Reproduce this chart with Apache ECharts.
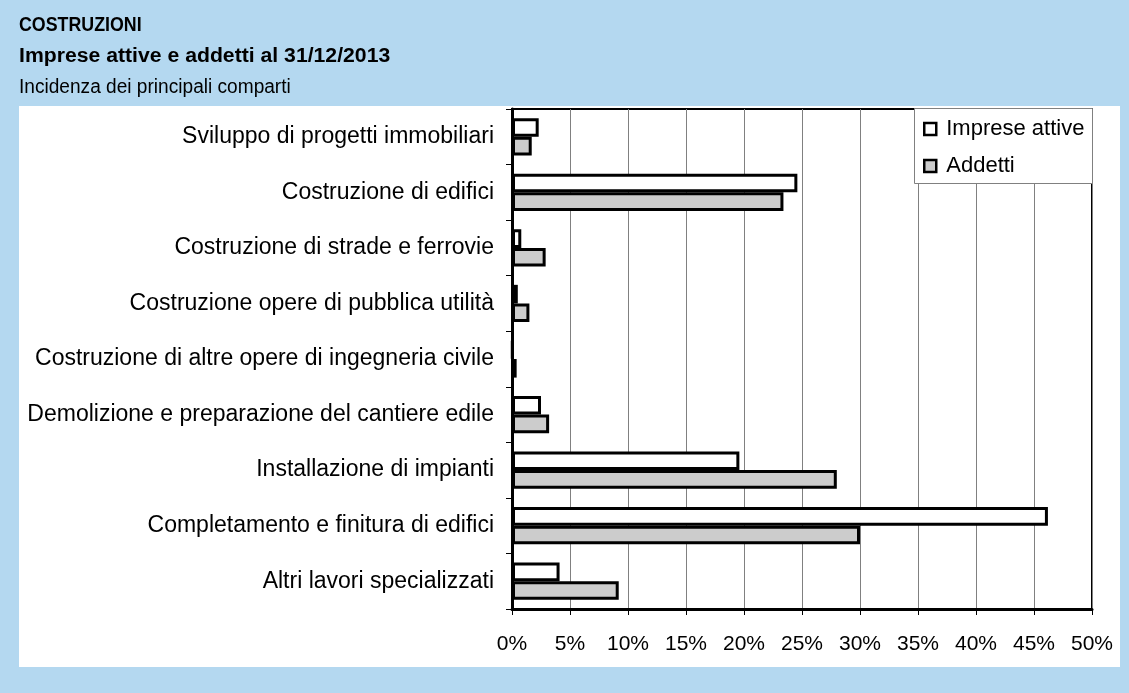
<!DOCTYPE html>
<html><head><meta charset="utf-8">
<script src="https://cdn.jsdelivr.net/npm/echarts@6/dist/echarts.min.js"></script>
<style>html,body{margin:0;padding:0;background:#b4d8f0;}#c{width:1129px;height:693px;}</style>
</head><body><div id="c"></div>
<script>
const categories = [
  'Sviluppo di progetti immobiliari',
  'Costruzione di edifici',
  'Costruzione di strade e ferrovie',
  'Costruzione opere di pubblica utilità',
  'Costruzione di altre opere di ingegneria civile',
  'Demolizione e preparazione del cantiere edile',
  'Installazione di impianti',
  'Completamento e finitura di edifici',
  'Altri lavori specializzati'
];
const impreseAttive = [2.3, 24.6, 0.8, 0.5, 0.05, 2.5, 19.6, 46.2, 4.1];
const addetti = [1.7, 23.4, 2.9, 1.5, 0.4, 3.2, 28.0, 30.0, 9.2];
const seriesNames = ['Imprese attive', 'Addetti'];
const titleLines = ['COSTRUZIONI', 'Imprese attive e addetti al 31/12/2013', 'Incidenza dei principali comparti'];

const FONT = '"Liberation Sans", Arial, sans-serif';
const chart = echarts.init(document.getElementById('c'), null, {renderer: 'canvas'});
function titleText(txt, y, weight, sx) {
  return {type: 'text', x: 19, y: y, scaleX: sx, z: 20,
    style: {text: txt, font: weight + ' 20px ' + FONT, fill: '#000', textVerticalAlign: 'middle', textAlign: 'left'}};
}
chart.setOption({
  backgroundColor: '#b4d8f0',
  animation: false,
  graphic: [
    {type: 'rect', left: 19, top: 106, shape: {width: 1101, height: 561}, style: {fill: '#ffffff'}, z: -10},
    {type: 'rect', left: 914, top: 108, shape: {width: 178, height: 75}, style: {fill: '#ffffff', stroke: '#808080', lineWidth: 1}, z: 5},
    titleText(titleLines[0], 25, 'bold', 0.89),
    titleText(titleLines[1], 56, 'bold', 1.06),
    titleText(titleLines[2], 87, 'normal', 0.955)
  ],
  legend: {
    orient: 'vertical', left: 914, top: 108, z: 10,
    padding: [10, 10, 10, 9], itemGap: 15,
    icon: 'rect', itemWidth: 12, itemHeight: 12,
    itemStyle: {borderColor: '#000', borderWidth: 2.5},
    textStyle: {fontFamily: FONT, fontSize: 22, color: '#000', lineHeight: 22, padding: [0, 0, 0, 5]},
    data: seriesNames
  },
  grid: {left: 512, right: 37, top: 109, bottom: 84, show: true, borderColor: '#000', borderWidth: 2, backgroundColor: 'transparent'},
  xAxis: {
    type: 'value', min: 0, max: 50, interval: 5,
    axisLine: {show: true, lineStyle: {color: '#000', width: 3}},
    axisTick: {show: true, length: 6, lineStyle: {color: '#000', width: 1}},
    splitLine: {show: true, lineStyle: {color: '#808080', width: 1}},
    axisLabel: {formatter: '{value}%', fontFamily: FONT, fontSize: 21, color: '#000', margin: 25}
  },
  yAxis: {
    type: 'category', inverse: true, data: categories,
    axisLine: {show: true, lineStyle: {color: '#000', width: 3}},
    axisTick: {show: true, length: 6, lineStyle: {color: '#000', width: 1}},
    axisLabel: {fontFamily: FONT, fontSize: 23, color: '#000', margin: 18}
  },
  series: [
    {name: seriesNames[0], type: 'bar', data: impreseAttive, barGap: '0%', barCategoryGap: '33%',
     itemStyle: {color: '#ffffff', borderColor: '#000', borderWidth: 3}},
    {name: seriesNames[1], type: 'bar', data: addetti,
     itemStyle: {color: '#cccccc', borderColor: '#000', borderWidth: 3}}
  ]
});
</script></body></html>
